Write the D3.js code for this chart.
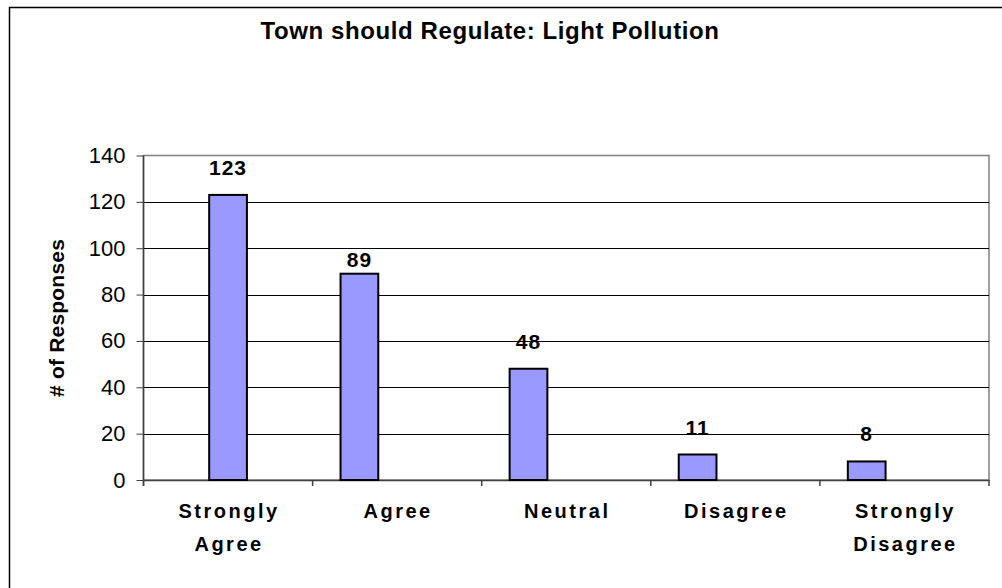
<!DOCTYPE html>
<html>
<head>
<meta charset="utf-8">
<script src="https://cdn.jsdelivr.net/npm/d3@7"></script>
<style>
  html, body { margin: 0; padding: 0; background: #fff; }
  svg { display: block; font-family: "Liberation Sans", Arial, sans-serif; }
</style>
</head>
<body>
<svg width="1002" height="588"></svg>
<script>
// data
const title = "Town should Regulate: Light Pollution";
const yTitle = "# of Responses";
const categories = ["Strongly Agree", "Agree", "Neutral", "Disagree", "Strongly Disagree"];
const values = [123, 89, 48, 11, 8];
const slots = ["b", "a", "a", "a", "a"];
const yTicks = [0, 20, 40, 60, 80, 100, 120, 140];

const svg = d3.select("svg");

// outer chart frame (right and bottom sides are off the picture)
svg.append("rect")
  .attr("x", 9.5).attr("y", 7.5)
  .attr("width", 1200).attr("height", 1000)
  .attr("fill", "none").attr("stroke", "#000").attr("stroke-width", 1.5);

const plotL = 143.5, plotR = 989, plotT = 155.5, plotB = 480;

const x = d3.scaleBand().domain(categories).range([plotL, plotR]).padding(0);
const xs = d3.scaleBand().domain(["a", "b", "c"])
  .range([0, x.bandwidth()]).paddingInner(0).paddingOuter(0.74);
const y = d3.scaleLinear().domain([0, 140]).range([plotB, plotT]);

// plot area border
svg.append("rect")
  .attr("x", plotL).attr("y", plotT)
  .attr("width", plotR - plotL).attr("height", plotB - plotT)
  .attr("fill", "#fff").attr("stroke", "#808080").attr("stroke-width", 1.5);

// gridlines
svg.append("g")
  .selectAll("line")
  .data(yTicks.filter(d => d > 0 && d < 140))
  .enter()
  .append("line")
  .attr("x1", plotL).attr("x2", plotR)
  .attr("y1", d => Math.round(y(d)) + 0.5).attr("y2", d => Math.round(y(d)) + 0.5)
  .attr("stroke", "#000").attr("stroke-width", 1);

// y axis
const yAxis = svg.append("g")
  .attr("transform", `translate(${plotL},0)`)
  .call(d3.axisLeft(y).tickValues(yTicks).tickSize(7).tickPadding(11));
yAxis.select(".domain").attr("stroke", "#404040").attr("stroke-width", 1.5)
  .attr("d", `M0,${plotT}V${plotB + 6}`);
yAxis.selectAll(".tick line").attr("stroke", "#404040");
yAxis.selectAll(".tick text")
  .attr("font-size", 22).attr("font-family", "Liberation Sans, Arial, sans-serif")
  .attr("fill", "#000");

// x axis
const xAxis = svg.append("g")
  .attr("transform", `translate(0,${plotB})`)
  .call(d3.axisBottom(x).tickSize(0).tickFormat(""));
xAxis.select(".domain").attr("stroke", "#404040").attr("stroke-width", 1.5);
xAxis.selectAll(".tick").remove();
xAxis.selectAll(".sep")
  .data(d3.range(categories.length + 1))
  .enter()
  .append("line")
  .attr("x1", i => i < categories.length ? x(categories[i]) : plotR)
  .attr("x2", i => i < categories.length ? x(categories[i]) : plotR)
  .attr("y1", 0).attr("y2", 6)
  .attr("stroke", "#404040").attr("stroke-width", 1.5);

// category labels
svg.append("g")
  .selectAll("text")
  .data(categories)
  .enter()
  .append("text")
  .attr("text-anchor", "middle")
  .attr("font-weight", "bold")
  .attr("font-size", 20)
  .attr("letter-spacing", 2.5)
  .attr("fill", "#000")
  .each(function(d) {
    const words = d.split(" ");
    const t = d3.select(this);
    words.forEach((w, i) => {
      t.append("tspan")
        .attr("x", x(d) + x.bandwidth() / 2 + 1)
        .attr("y", 518 + i * 33)
        .text(w);
    });
  });

// bars
svg.append("g")
  .selectAll("rect")
  .data(categories)
  .enter()
  .append("rect")
  .attr("x", (d, i) => x(d) + xs(slots[i]))
  .attr("y", (d, i) => y(values[i]))
  .attr("width", xs.bandwidth())
  .attr("height", (d, i) => plotB - y(values[i]))
  .attr("fill", "#9999FF")
  .attr("stroke", "#000")
  .attr("stroke-width", 2);

// value labels (the "Agree" label sits lower, closer to its bar)
const labelGap = d => d === "Agree" ? 7 : 20;
svg.append("g")
  .selectAll("text")
  .data(categories)
  .enter()
  .append("text")
  .attr("x", (d, i) => x(d) + xs(slots[i]) + xs.bandwidth() / 2)
  .attr("y", (d, i) => y(values[i]) - labelGap(d))
  .attr("text-anchor", "middle")
  .attr("font-weight", "bold")
  .attr("font-size", 21)
  .attr("letter-spacing", 1)
  .attr("fill", "#000")
  .text((d, i) => values[i]);

// y title
svg.append("text")
  .attr("transform", "translate(64,318) rotate(-90)")
  .attr("text-anchor", "middle")
  .attr("font-weight", "bold")
  .attr("font-size", 21)
  .attr("letter-spacing", 0.2)
  .attr("fill", "#000")
  .text(yTitle);

// chart title
svg.append("text")
  .attr("x", 490).attr("y", 39)
  .attr("text-anchor", "middle")
  .attr("font-weight", "bold")
  .attr("font-size", 24)
  .attr("letter-spacing", 0.6)
  .attr("fill", "#000")
  .text(title);
</script>
</body>
</html>
